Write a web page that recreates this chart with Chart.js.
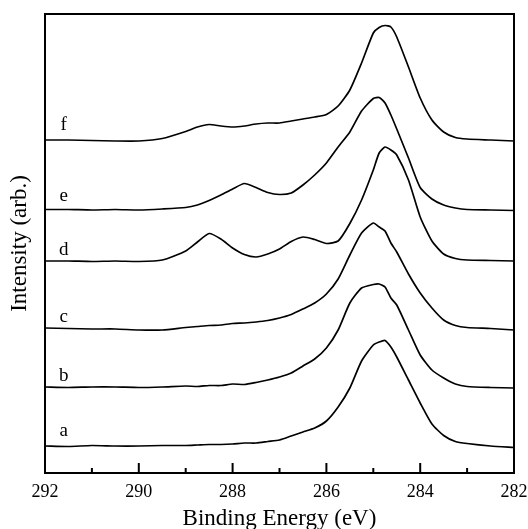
<!DOCTYPE html>
<html>
<head>
<meta charset="utf-8">
<script src="https://cdn.jsdelivr.net/npm/chart.js@4.4.1/dist/chart.umd.min.js"></script>
<style>
  html, body { margin: 0; padding: 0; background: #fff; }
  #wrap { width: 528px; height: 529px; }
</style>
</head>
<body>
<div id="wrap"><canvas id="c" width="528" height="529"></canvas></div>
<script>
// Binding energy grid (eV)
const energy = [292, 291.5, 291, 290.5, 290, 289.5, 289, 288.75, 288.5, 288.25, 288, 287.75, 287.5, 287.25, 287, 286.75, 286.5, 286.25, 286, 285.75, 285.5, 285.25, 285, 284.875, 284.75, 284.625, 284.5, 284.25, 284, 283.75, 283.5, 283.25, 283, 282.5, 282];

// Offset intensity traces (arb. units)
const seriesA = [27, 26.5, 27.5, 27, 27, 27.5, 27.5, 28, 28.5, 28.5, 29, 30, 30, 31.5, 33, 37, 41, 45, 52, 66, 85, 112, 128, 131, 132.5, 126, 116, 93, 70, 49, 37.5, 31.5, 29.5, 27, 25.5];
const seriesB = [86, 85.5, 86, 86, 85.5, 86, 87, 86.5, 87.5, 87.5, 89, 88.5, 90.5, 93, 96, 100, 107, 114, 125, 143, 170, 185, 188.5, 189, 186, 175, 168, 143, 118, 103, 95, 89, 86.5, 85.5, 85];
const seriesC = [145, 144.5, 144, 144, 143, 143, 145.5, 146.5, 147.5, 148, 149.5, 150, 151, 152.5, 155, 158.5, 164, 170, 179, 194, 218, 240, 250, 246, 242, 230, 221, 199, 180, 165, 153, 147.5, 145.5, 144.5, 143];
const seriesD = [212, 212, 211.5, 212, 211.5, 213, 222, 231, 239.5, 234, 225, 218.5, 216, 219, 224, 231.5, 236, 233.5, 229.5, 232, 249.5, 273, 303, 320, 326, 323, 318, 293, 256, 232, 219, 214.5, 213, 212.5, 212];
const seriesE = [263.5, 263.5, 263, 263.5, 263, 264, 265.5, 268, 272.5, 278, 284, 289.5, 285.5, 280.5, 278.5, 280, 288, 298, 310, 326, 341, 362, 374.5, 375.5, 370, 358, 344, 315, 285.5, 274, 268, 265, 263.5, 263, 262.5];
const seriesF = [333, 333, 332.5, 332, 332, 334.5, 341.5, 346, 348.5, 347, 346, 347, 349, 350, 350, 352, 354, 356, 358.5, 367, 383, 410, 440, 445.5, 447.5, 446, 436, 406, 375, 353, 341, 335.5, 334, 333, 332];

const seriesNames = ['a', 'b', 'c', 'd', 'e', 'f'];
const seriesList = [seriesA, seriesB, seriesC, seriesD, seriesE, seriesF];
// curve label anchors (eV, intensity)
const labelEnergy = 291.6;
const labelLevels = [42, 97, 156, 223, 277, 348];

const xTicks = [292, 290, 288, 286, 284, 282];

const FONT = "'Liberation Serif', 'Times New Roman', serif";

const toPts = (arr) => energy.map((e, i) => ({x: e, y: arr[i]}));

const framePlugin = {
  id: 'frame',
  afterDraw(chart) {
    const {ctx, chartArea: a, scales: {x, y}} = chart;
    ctx.save();
    ctx.strokeStyle = '#000';
    ctx.lineWidth = 2;
    ctx.strokeRect(a.left, a.top, a.right - a.left, a.bottom - a.top);
    // inward ticks on bottom axis
    for (let v = 283; v <= 291; v++) {
      const px = x.getPixelForValue(v);
      const len = (v % 2 === 0) ? 10 : 5;
      ctx.beginPath();
      ctx.moveTo(px, a.bottom);
      ctx.lineTo(px, a.bottom - len);
      ctx.stroke();
    }
    // curve labels
    ctx.fillStyle = '#000';
    ctx.font = '19px ' + FONT;
    ctx.textAlign = 'center';
    ctx.textBaseline = 'middle';
    seriesNames.forEach((n, i) => {
      ctx.fillText(n, x.getPixelForValue(labelEnergy), y.getPixelForValue(labelLevels[i]));
    });
    ctx.restore();
  }
};

new Chart(document.getElementById('c'), {
  type: 'line',
  data: {
    datasets: seriesList.map((s, i) => ({
      label: seriesNames[i],
      data: toPts(s),
      borderColor: '#000',
      borderWidth: 1.7,
      pointRadius: 0,
      tension: 0.2,
      fill: false
    }))
  },
  options: {
    responsive: false,
    animation: false,
    layout: { padding: { left: 0, top: 14, right: 14, bottom: 0 } },
    plugins: { legend: { display: false }, tooltip: { enabled: false } },
    scales: {
      x: {
        type: 'linear',
        reverse: true,
        min: 282,
        max: 292,
        afterFit: (s) => { s.height = 56; s.paddingLeft = 0; s.paddingRight = 0; },
        afterBuildTicks: (s) => { s.ticks = xTicks.map(v => ({value: v})); },
        grid: { display: false, drawTicks: false },
        border: { display: false },
        ticks: {
          color: '#000',
          padding: 8,
          maxRotation: 0,
          font: { family: FONT, size: 18 }
        },
        title: {
          display: true,
          text: 'Binding Energy (eV)',
          color: '#000',
          font: { family: FONT, size: 23, lineHeight: 0.85 },
          padding: 0
        }
      },
      y: {
        min: 0,
        max: 459,
        afterFit: (s) => { s.width = 45; s.paddingTop = 0; s.paddingBottom = 0; },
        grid: { display: false, drawTicks: false },
        border: { display: false },
        ticks: { display: false },
        title: {
          display: true,
          text: 'Intensity (arb.)',
          color: '#000',
          font: { family: FONT, size: 23, lineHeight: 1 },
          padding: { top: 8, bottom: 0 }
        }
      }
    }
  },
  plugins: [framePlugin]
});
</script>
</body>
</html>
